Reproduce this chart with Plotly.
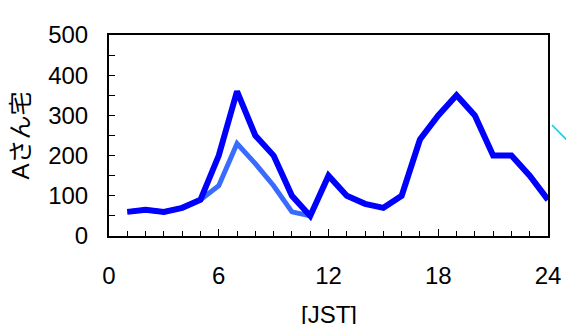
import plotly.graph_objects as go

hours = list(range(1, 25))
series_a = [60, 65, 60, 70, 90, 200, 360, 250, 200, 100, 50, 150, 100, 80, 70, 100, 240, 300, 350, 300, 200, 200, 150, 90]
hours_b = list(range(1, 12))
series_b = [60, 65, 60, 70, 90, 125, 230, 180, 125, 60, 50]
x_ticks = [0, 6, 12, 18, 24]
y_ticks = [0, 100, 200, 300, 400, 500]

font_main = "Liberation Sans, Arial, Noto Sans CJK JP, sans-serif"

fig = go.Figure()
fig.add_trace(go.Scatter(x=hours_b, y=series_b, mode="lines",
                         line=dict(color="#3a6bff", width=5), showlegend=False))
fig.add_trace(go.Scatter(x=hours, y=series_a, mode="lines",
                         line=dict(color="#0000ff", width=6), showlegend=False))

fig.add_shape(type="line", xref="paper", yref="paper",
              x0=1.009, y0=0.552, x1=1.06, y1=0.44,
              line=dict(color="#00d0f0", width=1.5), layer="above")

fig.add_annotation(text="[JST]", xref="paper", yref="paper", x=0.5, y=-0.39,
                   xanchor="center", yanchor="middle", showarrow=False,
                   font=dict(size=24, family=font_main, color="black"))

fig.update_layout(
    width=566, height=324,
    margin=dict(l=109, r=18, t=35, b=88),
    paper_bgcolor="white", plot_bgcolor="white",
    font=dict(family=font_main, size=24, color="black"),
    xaxis=dict(range=[0, 24], tickvals=x_ticks, ticks="inside", ticklen=7,
               tickwidth=1, tickcolor="black", showgrid=False, zeroline=False,
               showline=True, linecolor="black", linewidth=2, mirror=True,
               ticklabelstandoff=17, automargin=False,
               minor=dict(dtick=1, ticks="inside", ticklen=5, tickcolor="black", tickwidth=1)),
    yaxis=dict(range=[0, 500], tickvals=y_ticks, ticks="inside", ticklen=6,
               tickwidth=1, tickcolor="black", showgrid=False, zeroline=False,
               showline=True, linecolor="black", linewidth=2, mirror=True,
               ticklabelstandoff=14, automargin=False,
               minor=dict(dtick=50, ticks="inside", ticklen=6, tickcolor="black", tickwidth=1),
               title=dict(text="Aさん宅", standoff=12, font=dict(size=24))),
)

fig.write_html("out.html")
